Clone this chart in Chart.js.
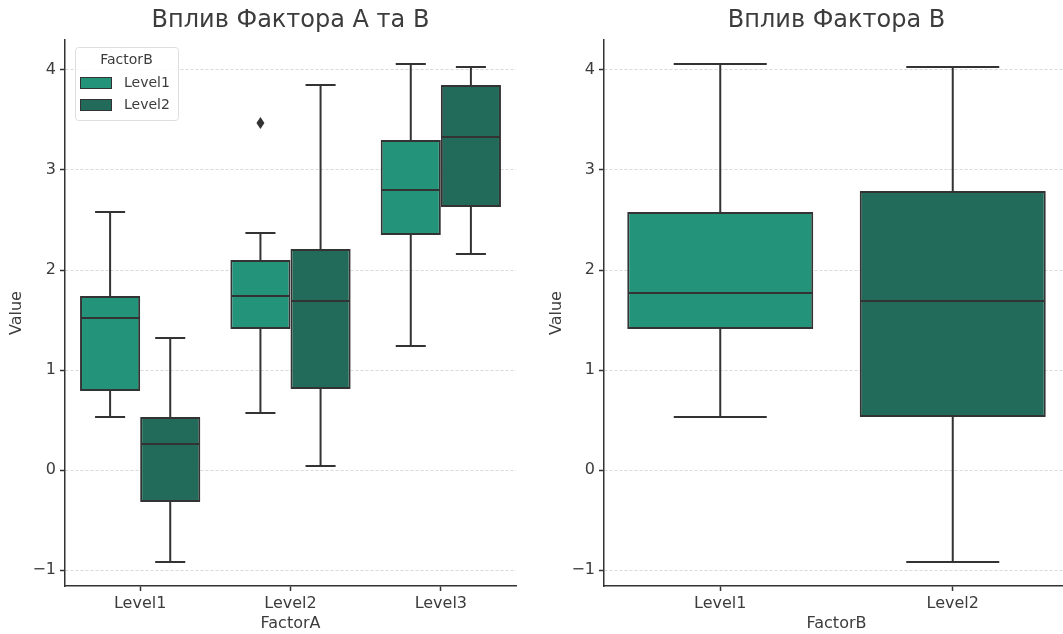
<!DOCTYPE html>
<html>
<head>
<meta charset="utf-8">
<script src="https://cdn.jsdelivr.net/npm/chart.js@4"></script>
<style>
  html, body { margin: 0; padding: 0; background: #fff; overflow: hidden; }
  .panel { position: absolute; top: 0; height: 634px; }
  #leftPanel { left: 0; width: 540px; }
  #rightPanel { left: 540px; width: 540px; }
</style>
</head>
<body>
<div class="panel" id="leftPanel"><canvas id="chartAB"></canvas></div>
<div class="panel" id="rightPanel"><canvas id="chartB"></canvas></div>
<script>
// ── Data ──
const factorA = ['Level1', 'Level2', 'Level3'];
const factorB = ['Level1', 'Level2'];

// FactorA x FactorB, hue = FactorB Level1
const lowB1  = [0.53, 0.57, 1.24];
const q1B1   = [0.79, 1.41, 2.35];
const medB1  = [1.52, 1.74, 2.80];
const q3B1   = [1.74, 2.10, 3.30];
const highB1 = [2.58, 2.37, 4.06];
const outB1  = [[], [3.47], []];

// hue = FactorB Level2
const lowB2  = [-0.92, 0.04, 2.16];
const q1B2   = [-0.32, 0.81, 2.63];
const medB2  = [0.26, 1.69, 3.33];
const q3B2   = [0.53, 2.21, 3.85];
const highB2 = [1.32, 3.85, 4.03];
const outB2  = [[], [], []];

// FactorB only
const lowB  = [0.53, -0.92];
const q1B   = [1.41, 0.53];
const medB  = [1.77, 1.69];
const q3B   = [2.58, 2.79];
const highB = [4.06, 4.03];
const outB  = [[], []];

const yTicks = [-1, 0, 1, 2, 3, 4];

// ── Styles ──
const COL1 = '#23937a';
const COL2 = '#226b5a';
const EDGE = '#333333';
const TEXT = '#3c3c3c';
const FONT = "'DejaVu Sans', sans-serif";

// whiskers, medians and outliers on top of the floating bars
const boxPlugin = {
  id: 'boxWhiskers',
  afterDatasetsDraw(chart) {
    const ctx = chart.ctx;
    const y = chart.scales.y;
    chart.data.datasets.forEach((ds, i) => {
      const meta = chart.getDatasetMeta(i);
      const st = ds.stats;
      meta.data.forEach((bar, j) => {
        const x = bar.x, w = bar.width;
        const pLow = y.getPixelForValue(st.low[j]);
        const pQ1 = y.getPixelForValue(st.q1[j]);
        const pMed = y.getPixelForValue(st.med[j]);
        const pQ3 = y.getPixelForValue(st.q3[j]);
        const pHigh = y.getPixelForValue(st.high[j]);
        ctx.save();
        ctx.strokeStyle = EDGE;
        ctx.lineWidth = 2;
        ctx.beginPath();
        ctx.moveTo(x, pQ3); ctx.lineTo(x, pHigh);
        ctx.moveTo(x - w / 4, pHigh); ctx.lineTo(x + w / 4, pHigh);
        ctx.moveTo(x, pQ1); ctx.lineTo(x, pLow);
        ctx.moveTo(x - w / 4, pLow); ctx.lineTo(x + w / 4, pLow);
        ctx.moveTo(x - w / 2 + 1, pMed); ctx.lineTo(x + w / 2 - 1, pMed);
        ctx.stroke();
        ctx.fillStyle = EDGE;
        (st.out[j] || []).forEach(v => {
          const py = y.getPixelForValue(v);
          ctx.beginPath();
          ctx.moveTo(x, py - 6);
          ctx.lineTo(x + 4, py);
          ctx.lineTo(x, py + 6);
          ctx.lineTo(x - 4, py);
          ctx.closePath();
          ctx.fill();
        });
        ctx.restore();
      });
    });
  }
};

// framed legend with title, top-left inside the plot area
const legendPlugin = {
  id: 'framedLegend',
  afterDraw(chart, args, opts) {
    if (!opts.show) return;
    const ctx = chart.ctx;
    const a = chart.chartArea;
    const lx = a.left + 10, ly = a.top + 7, lw = 103, lh = 73;
    ctx.save();
    ctx.fillStyle = 'rgba(255,255,255,0.85)';
    ctx.strokeStyle = '#dedede';
    ctx.lineWidth = 1;
    ctx.beginPath();
    ctx.roundRect(lx + 0.5, ly + 0.5, lw, lh, 3);
    ctx.fill();
    ctx.stroke();
    ctx.fillStyle = TEXT;
    ctx.font = `14px ${FONT}`;
    ctx.textBaseline = 'middle';
    ctx.textAlign = 'center';
    ctx.fillText(opts.title, lx + lw / 2, ly + 13);
    ctx.textAlign = 'left';
    chart.data.datasets.forEach((ds, i) => {
      const rowY = ly + 36 + i * 22;
      ctx.fillStyle = ds.backgroundColor;
      ctx.fillRect(lx + 5, rowY - 6, 32, 12);
      ctx.strokeStyle = EDGE;
      ctx.lineWidth = 1;
      ctx.strokeRect(lx + 5.5, rowY - 5.5, 31, 11);
      ctx.fillStyle = TEXT;
      ctx.fillText(ds.label, lx + 49, rowY);
    });
    ctx.restore();
  }
};

function makeScales(xTitle, yWidth) {
  return {
    x: {
      type: 'category',
      offset: true,
      grid: { display: true, drawOnChartArea: false, offset: false, drawTicks: true, tickLength: 5, tickColor: EDGE, tickWidth: 1.5 },
      border: { display: true, color: EDGE, width: 1.5 },
      ticks: { color: TEXT, font: { family: FONT, size: 16 }, padding: 3 },
      title: { display: true, text: xTitle, color: TEXT, font: { family: FONT, size: 16 }, padding: { top: 0, bottom: 1 } },
      afterFit(scale) { scale.height = 48; }
    },
    y: {
      min: -1.16,
      max: 4.3,
      grid: { color: '#d8d8d8', lineWidth: 1, drawTicks: true, tickLength: 5, tickColor: EDGE, tickWidth: 1.5 },
      border: { display: true, color: EDGE, width: 1.5, dash: [3, 2] },
      afterBuildTicks(scale) { scale.ticks = yTicks.map(v => ({ value: v })); },
      ticks: {
        color: TEXT,
        font: { family: FONT, size: 16 },
        padding: 4,
        callback: v => (v < 0 ? '\u2212' + Math.abs(v) : String(v))
      },
      title: { display: true, text: 'Value', color: TEXT, font: { family: FONT, size: 16 }, padding: { top: 7, bottom: 0 } },
      afterFit(scale) { scale.width = yWidth; }
    }
  };
}

function makeOptions(title, xTitle, yWidth, padRight, showLegend) {
  return {
    responsive: true,
    maintainAspectRatio: false,
    animation: false,
    events: [],
    layout: { padding: { left: 0, right: padRight, top: 0, bottom: 0 } },
    scales: makeScales(xTitle, yWidth),
    plugins: {
      legend: { display: false },
      tooltip: { enabled: false },
      title: {
        display: true,
        text: title,
        fullSize: false,
        color: TEXT,
        font: { family: FONT, size: 24, weight: 'normal' },
        padding: { top: 6, bottom: 5.2 }
      },
      framedLegend: { show: showLegend, title: 'FactorB' }
    }
  };
}

// ── Left: FactorA by FactorB ──
new Chart(document.getElementById('chartAB').getContext('2d'), {
  type: 'bar',
  data: {
    labels: factorA,
    datasets: [
      {
        label: factorB[0],
        data: factorA.map((_, j) => [q1B1[j], q3B1[j]]),
        stats: { low: lowB1, q1: q1B1, med: medB1, q3: q3B1, high: highB1, out: outB1 },
        backgroundColor: COL1,
        borderColor: EDGE,
        borderWidth: 2,
        borderSkipped: false,
        categoryPercentage: 0.8,
        barPercentage: 1.0
      },
      {
        label: factorB[1],
        data: factorA.map((_, j) => [q1B2[j], q3B2[j]]),
        stats: { low: lowB2, q1: q1B2, med: medB2, q3: q3B2, high: highB2, out: outB2 },
        backgroundColor: COL2,
        borderColor: EDGE,
        borderWidth: 2,
        borderSkipped: false,
        categoryPercentage: 0.8,
        barPercentage: 1.0
      }
    ]
  },
  options: makeOptions('Вплив Фактора А та В', 'FactorA', 65, 24, true),
  plugins: [boxPlugin, legendPlugin]
});

// ── Right: FactorB ──
new Chart(document.getElementById('chartB').getContext('2d'), {
  type: 'bar',
  data: {
    labels: factorB,
    datasets: [{
      label: 'FactorB',
      data: factorB.map((_, j) => [q1B[j], q3B[j]]),
      stats: { low: lowB, q1: q1B, med: medB, q3: q3B, high: highB, out: outB },
      backgroundColor: [COL1, COL2],
      borderColor: EDGE,
      borderWidth: 2,
      borderSkipped: false,
      categoryPercentage: 0.8,
      barPercentage: 1.0
    }]
  },
  options: makeOptions('Вплив Фактора В', 'FactorB', 64, 11, false),
  plugins: [boxPlugin, legendPlugin]
});
</script>
</body>
</html>
